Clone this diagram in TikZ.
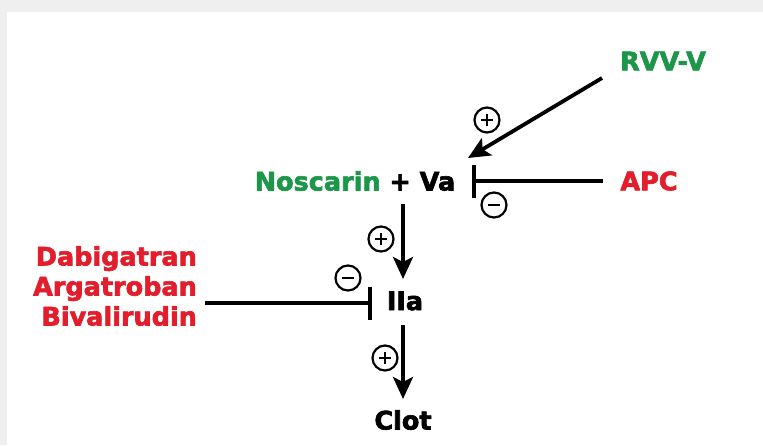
\documentclass[tikz,border=0pt]{standalone}
\usepackage{fontspec}
\setmainfont{DejaVu Sans}
\newfontfamily\heavy[FakeBold=2.4]{DejaVu Sans Bold}
\usetikzlibrary{arrows.meta}
\definecolor{grn}{RGB}{28,150,72}
\definecolor{rd}{RGB}{226,30,45}
\definecolor{framegray}{RGB}{239,239,239}

\begin{document}
\begin{tikzpicture}[x=1pt,y=-1pt,
  lbl/.style={font=\heavy\fontsize{25.5}{30}\selectfont, inner sep=0pt},
  act/.style={line width=3.8pt,-{Stealth[length=22pt,width=20pt,inset=5pt]}},
  inh/.style={line width=3.8pt,-{Bar[width=33pt,line width=3.8pt]}},
  sign/.style={circle,draw,line width=2.2pt,minimum size=25pt,inner sep=0pt},
  plus/.style={sign,path picture={
      \draw[line width=2.8pt] ([xshift=-6pt]path picture bounding box.center) -- ++(12pt,0pt);
      \draw[line width=2.8pt] ([yshift=-6pt]path picture bounding box.center) -- ++(0pt,12pt);}},
  minus/.style={sign,path picture={
      \draw[line width=2.8pt] ([xshift=-6pt]path picture bounding box.center) -- ++(12pt,0pt);}}]

% frame and page
\fill[framegray] (0,0) rectangle (763,445);
\fill[white] (7,12) rectangle (763,445);
\useasboundingbox (0,0) rectangle (763,445);

% labels
\node[lbl,text=grn] (rvv) at (663,61) {RVV-V};
\node[lbl,text=rd] (apc) at (649,181) {APC};
\node[lbl] (nva) at (355,181) {\textcolor{grn}{Noscarin} + Va};
\node[lbl,text=rd,align=right,anchor=east] (drugs) at (197,286)
  {Dabigatran\\Argatroban\\Bivalirudin};
\node[lbl] (iia) at (405,301) {IIa};
\node[lbl] (clot) at (403,420) {Clot};

% connector end points
\coordinate (rvvS) at (602,78);
\coordinate (vaT) at (468,158);
\coordinate (apcS) at (603,181);
\coordinate (vaR) at (472,181);
\coordinate (vaB) at (403,204);
\coordinate (iiaT) at (403,279);
\coordinate (drS) at (205,303);
\coordinate (iiaL) at (372,303);
\coordinate (iiaB) at (403,325);
\coordinate (clotT) at (403,399);

% connectors
\draw[act] (rvvS) -- (vaT);
\draw[inh] (apcS) -- (vaR);
\draw[act] (vaB) -- (iiaT);
\draw[inh] (drS) -- (iiaL);
\draw[act] (iiaB) -- (clotT);

% signs
\node[plus] (s1) at (487,120) {};
\node[minus] (s2) at (494,205) {};
\node[plus] (s3) at (381,239) {};
\node[minus] (s4) at (348,278) {};
\node[plus] (s5) at (385,358) {};
\end{tikzpicture}
\end{document}
